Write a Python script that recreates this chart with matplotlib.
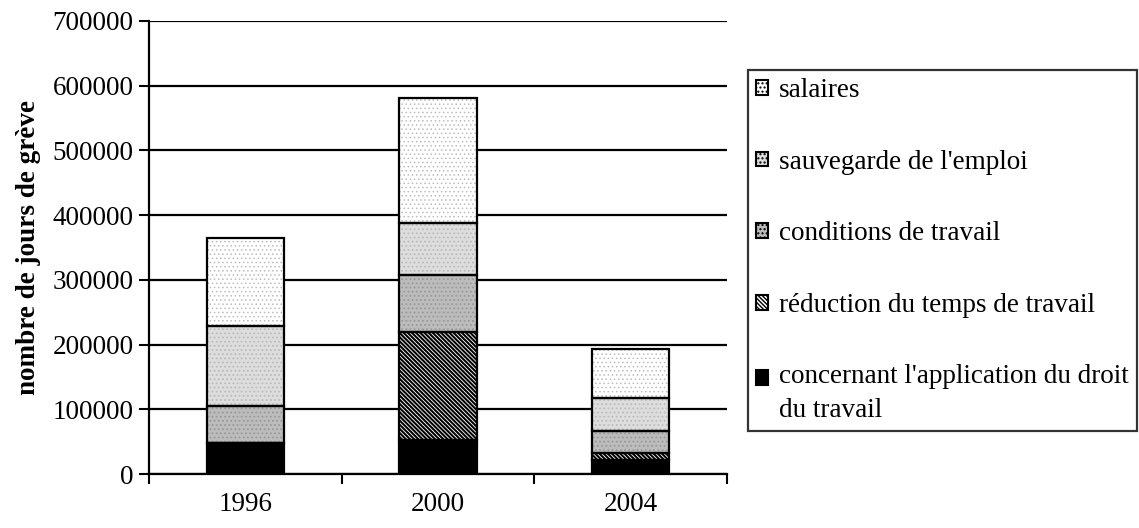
"""
Jours de grève par motif, 1996 / 2000 / 2004 - stacked bars.
"""

import matplotlib
matplotlib.use("Agg")
import matplotlib.pyplot as plt
from matplotlib.patches import Patch

years = ["1996", "2000", "2004"]

# stacked from bottom to top
droit = [48000, 53000, 22000]
reduction = [0, 167000, 11000]
conditions = [57000, 87000, 34000]
sauvegarde = [123000, 81000, 51000]
salaires = [136000, 193000, 75000]

series = [
    ("concernant l'application du droit\ndu travail", droit),
    ("réduction du temps de travail", reduction),
    ("conditions de travail", conditions),
    ("sauvegarde de l'emploi", sauvegarde),
    ("salaires", salaires),
]

# face colour, hatch, hatch colour, hatch width for each motif
styles = {
    "concernant l'application du droit\ndu travail": ("black", "", "black", 1.0),
    "réduction du temps de travail": ("white", "\\" * 8, "black", 1.5),
    "conditions de travail": ("#bcbcbc", "....", "#999999", 0.8),
    "sauvegarde de l'emploi": ("#dddddd", "....", "#bbbbbb", 0.8),
    "salaires": ("white", "....", "#bdbdbd", 0.6),
}

plt.rcParams["font.family"] = ["Liberation Serif", "DejaVu Serif"]
plt.rcParams["font.size"] = 19.5

fig = plt.figure(figsize=(11.39, 5.28), dpi=100)
ax = fig.add_axes([149 / 1139, 54 / 528, 578 / 1139, 453 / 528])

x = list(range(len(years)))
bottom = [0, 0, 0]
for name, vals in series:
    face, hatch, hcol, hlw = styles[name]
    # hatch drawn with its own colour, outline drawn on top in black
    with plt.rc_context({"hatch.linewidth": hlw}):
        ax.bar(x, vals, width=0.4, bottom=bottom, color=face, hatch=hatch,
               edgecolor=hcol, linewidth=0, zorder=3)
    ax.bar(x, vals, width=0.4, bottom=bottom, fill=False,
           edgecolor="black", linewidth=1.6, zorder=4)
    bottom = [b + v for b, v in zip(bottom, vals)]

ax.set_xlim(-0.5, 2.5)
ax.set_ylim(0, 700000)
ax.set_yticks(range(0, 700001, 100000))
ax.set_yticklabels([str(v) for v in range(0, 700001, 100000)])
ax.set_xticks(x)
ax.set_xticklabels(years)
ax.set_xticks([-0.5, 0.5, 1.5, 2.5], minor=True)
ax.tick_params(axis="x", which="major", length=0, pad=13)
ax.tick_params(axis="x", which="minor", length=7, width=1.5, direction="out")
ax.tick_params(axis="y", length=7, width=1.5, direction="out", pad=4)

ax.yaxis.grid(True, color="black", linewidth=1.6, zorder=0)
ax.set_axisbelow(True)
for side in ["top", "right"]:
    ax.spines[side].set_visible(False)
for side in ["left", "bottom"]:
    ax.spines[side].set_linewidth(1.6)

ax.set_ylabel("nombre de jours de grève", fontweight="bold", labelpad=8)

# legend, top entry first
handles = []
for name, vals in reversed(series):
    face, hatch, hcol, hlw = styles[name]
    handles.append(Patch(facecolor=face, hatch=hatch, edgecolor="black", linewidth=1.5))
with plt.rc_context({"hatch.linewidth": 1.0}):
    leg = fig.legend(handles=handles, labels=[n for n, _ in reversed(series)],
                     loc="upper left", bbox_to_anchor=(748 / 1139, 1 - 70 / 528),
                     frameon=True, fancybox=False, edgecolor="black",
                     handlelength=0.45, handleheight=0.45, handletextpad=0.4,
                     labelspacing=1.72, borderpad=0.3, borderaxespad=0)
leg.get_frame().set_linewidth(1.6)
leg.get_texts()[-1].set_linespacing(1.45)
# keep the last square level with the first line of its label
last = leg.legend_handles[-1]
last.set_y(last.get_y() + 11.5)

plt.savefig("out.png", dpi=100)
